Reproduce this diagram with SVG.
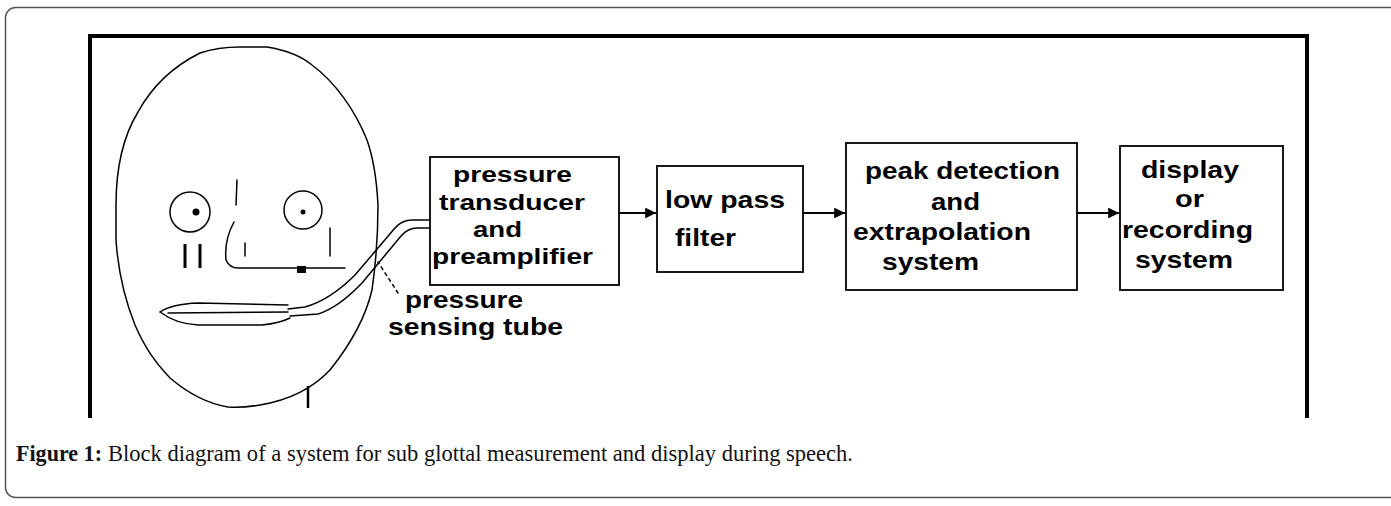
<svg xmlns="http://www.w3.org/2000/svg" width="1391" height="506" viewBox="0 0 1391 506">
<defs>
<style>
.frame{fill:none;stroke:#555;stroke-width:1.5}
.inner{fill:none;stroke:#000;stroke-width:4}
.box{fill:none;stroke:#000;stroke-width:1.8}
.face{fill:none;stroke:#000;stroke-width:1.5;stroke-linecap:round;stroke-linejoin:round}
.conn{fill:none;stroke:#000;stroke-width:1.8}
.lbl{font-family:"Liberation Sans",Arial,sans-serif;font-size:24px;font-weight:bold;fill:#000}
.sm{font-size:22px}
.cap{font-family:"Liberation Serif","Times New Roman",serif;font-size:23px;fill:#111}
</style>
<marker id="arr" viewBox="0 0 10 10" refX="10" refY="5" markerWidth="6" markerHeight="6" orient="auto" markerUnits="strokeWidth">
<path d="M0,0 L10,5 L0,10 Z" fill="#000"/>
</marker>
</defs>
<rect x="5.5" y="7.5" width="1400" height="490" rx="10" class="frame"/>
<path class="inner" d="M90,418 L90,36 L1307,36 L1307,418"/>
<g id="face">
<path class="face" d="M116,205 C116,165 124,135 138,112 C150,90 170,68 200,53 C215,48 228,47 240,47 L267,47 C285,50 300,55 312,65 C335,82 355,110 367,140 C374,160 377,185 378,205 C378,230 377,255 372,290 C365,320 350,345 330,370 C313,388 290,400 260,405 C248,407 238,408 228,407 C210,404 190,395 170,378 C155,362 145,348 135,325 C125,300 118,270 116,240 Z"/>
<circle class="face" cx="190" cy="212" r="20"/>
<circle class="face" cx="303" cy="210" r="19"/>
<circle cx="196" cy="212" r="3.5" fill="#000"/>
<circle cx="303" cy="212" r="2.5" fill="#000"/>
<path class="face" d="M237,180 L236,205 M234,222 Q224,240 226,260 Q230,269 240,268 L345,268"/>
<path class="face" d="M330,228 L330,256 M245,243 L245,256"/>
<path d="M185,244 L185,268 M200,244 L200,268" stroke="#000" stroke-width="3"/>
<rect x="297" y="266" width="9" height="7" fill="#000"/>
<path class="face" d="M160,312 Q172,304 198,303 L288,305 M160,312 Q176,324 198,325 L262,325 Q280,323 290,318 M168,313 L288,312"/>
<path d="M308,386 L308,408" stroke="#000" stroke-width="2.5"/>
</g>
<g id="tube">
<path class="face" stroke-width="2" d="M288,309 L305,307 Q330,300 355,275 L395,228 Q402,220 412,220 L430,220"/>
<path class="face" stroke-width="2" d="M290,316 L318,314 Q338,308 362,283 L401,236 Q408,228 417,228 L430,228"/>
<path class="face" stroke-dasharray="3,4" d="M398,293 L378,262"/>
<text class="lbl" x="405" y="308" textLength="118" lengthAdjust="spacingAndGlyphs">pressure</text>
<text class="lbl" x="388" y="335" textLength="175" lengthAdjust="spacingAndGlyphs">sensing tube</text>
</g>
<g id="transducer">
<rect class="box" x="430" y="157" width="189" height="128"/>
<text class="lbl sm" x="453" y="182" textLength="119" lengthAdjust="spacingAndGlyphs">pressure</text>
<text class="lbl sm" x="439" y="210" textLength="146" lengthAdjust="spacingAndGlyphs">transducer</text>
<text class="lbl sm" x="473" y="237" textLength="49" lengthAdjust="spacingAndGlyphs">and</text>
<text class="lbl sm" x="432" y="264" textLength="161" lengthAdjust="spacingAndGlyphs">preamplifier</text>
</g>
<g id="filter">
<rect class="box" x="657" y="166" width="146" height="106"/>
<text class="lbl" x="665" y="208" textLength="120" lengthAdjust="spacingAndGlyphs">low pass</text>
<text class="lbl" x="675" y="246" textLength="61" lengthAdjust="spacingAndGlyphs">filter</text>
</g>
<g id="peak">
<rect class="box" x="846" y="143" width="231" height="147"/>
<text class="lbl" x="865" y="179" textLength="195" lengthAdjust="spacingAndGlyphs">peak detection</text>
<text class="lbl" x="931" y="210" textLength="49" lengthAdjust="spacingAndGlyphs">and</text>
<text class="lbl" x="853" y="240" textLength="178" lengthAdjust="spacingAndGlyphs">extrapolation</text>
<text class="lbl" x="882" y="270" textLength="97" lengthAdjust="spacingAndGlyphs">system</text>
</g>
<g id="display">
<rect class="box" x="1120" y="146" width="163" height="144"/>
<text class="lbl" x="1141" y="178" textLength="98" lengthAdjust="spacingAndGlyphs">display</text>
<text class="lbl" x="1175" y="207" textLength="29" lengthAdjust="spacingAndGlyphs">or</text>
<text class="lbl" x="1122" y="238" textLength="131" lengthAdjust="spacingAndGlyphs">recording</text>
<text class="lbl" x="1135" y="268" textLength="98" lengthAdjust="spacingAndGlyphs">system</text>
</g>
<g id="connectors">
<line class="conn" x1="619" y1="213" x2="656" y2="213" marker-end="url(#arr)"/>
<line class="conn" x1="803" y1="213" x2="845" y2="213" marker-end="url(#arr)"/>
<line class="conn" x1="1077" y1="213" x2="1119" y2="213" marker-end="url(#arr)"/>
</g>
<g id="caption">
<text class="cap" x="16" y="461" font-weight="bold" textLength="86" lengthAdjust="spacingAndGlyphs">Figure 1:</text>
<text class="cap" x="108" y="461" textLength="745" lengthAdjust="spacingAndGlyphs">Block diagram of a system for sub glottal measurement and display during speech.</text>
</g>
</svg>
